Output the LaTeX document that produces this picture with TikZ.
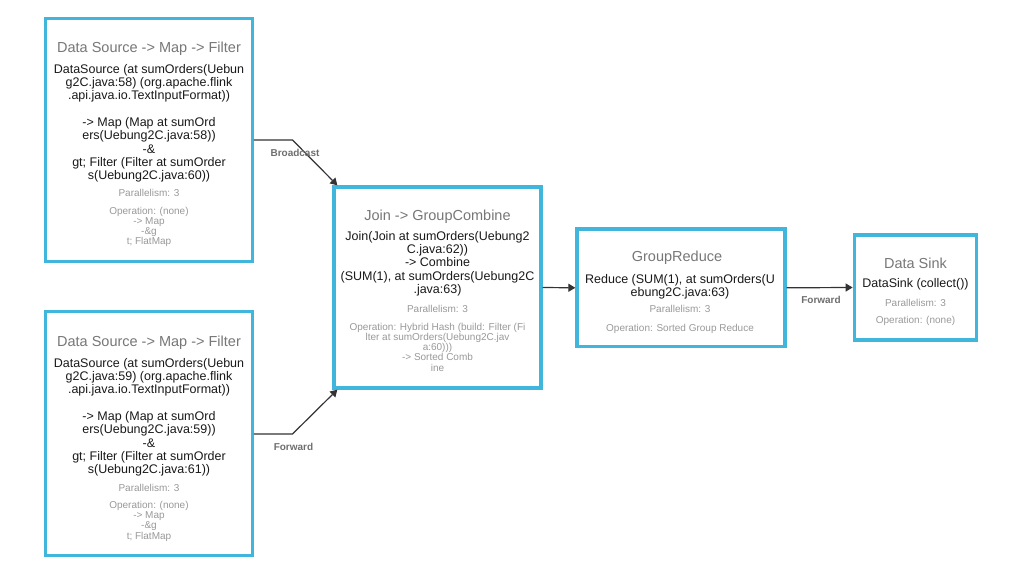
\documentclass[tikz,border=0pt]{standalone}
\usepackage{fontspec}
\setmainfont{Liberation Sans}
\definecolor{flinkblue}{RGB}{64, 182, 220}
\definecolor{titlegray}{RGB}{119, 119, 119}
\definecolor{infogray}{RGB}{153, 153, 153}
\definecolor{labelgray}{RGB}{110, 110, 110}
\definecolor{edgegray}{RGB}{51, 51, 51}
\usetikzlibrary{arrows.meta, positioning, calc}

\begin{document}
\begin{tikzpicture}[
  x=1pt, y=-1pt,
  opbox/.style={draw=flinkblue, line width=3.3pt, fill=white, inner sep=0pt},
  optitle/.style={anchor=base, inner sep=0pt, text=titlegray, font=\fontsize{14.5}{16}\selectfont},
  opbody/.style={anchor=base, inner sep=0pt, align=center, text=black!90, font=\fontsize{12.5}{13.3}\selectfont},
  opinfo/.style={anchor=base, inner sep=0pt, align=center, text=infogray, font=\fontsize{10}{10.3}\selectfont},
  shiplabel/.style={anchor=base, inner sep=0pt, text=labelgray, font=\bfseries\fontsize{10}{12}\selectfont},
  flow/.style={draw=edgegray, line width=1.2pt, -{Triangle[length=7pt, width=8pt]}}
]
  \useasboundingbox (0,0) rectangle (1029,578);

  % data sources (text nodes sit on the baseline of their last line)
  \node[opbox, minimum width=206.6pt, minimum height=243pt] (srcA) at (149,140) {};
  \node[optitle] (srcAtitle) at (149,52.7) {Data Source -> Map -> Filter};
  \node[opbody] (srcAbody) at (149,179.7) {DataSource (at sumOrders(Uebun\\g2C.java:58) (org.apache.flink\\.api.java.io.TextInputFormat))\\[13.3pt]-> Map (Map at sumOrd\\ers(Uebung2C.java:58))\\-\&\\gt; Filter (Filter at sumOrder\\s(Uebung2C.java:60))};
  \node[opinfo] (srcApar) at (149,196.7) {Parallelism: 3};
  \node[opinfo] (srcAop) at (149,244.9) {Operation: (none)\\-> Map\\-\&g\\t; FlatMap};

  \node[opbox, minimum width=206.6pt, minimum height=243.6pt] (srcB) at (149,433.5) {};
  \node[optitle] (srcBtitle) at (149,346.7) {Data Source -> Map -> Filter};
  \node[opbody] (srcBbody) at (149,473.7) {DataSource (at sumOrders(Uebun\\g2C.java:59) (org.apache.flink\\.api.java.io.TextInputFormat))\\[13.3pt]-> Map (Map at sumOrd\\ers(Uebung2C.java:59))\\-\&\\gt; Filter (Filter at sumOrder\\s(Uebung2C.java:61))};
  \node[opinfo] (srcBpar) at (149,491) {Parallelism: 3};
  \node[opinfo] (srcBop) at (149,539.2) {Operation: (none)\\-> Map\\-\&g\\t; FlatMap};

  % join
  \node[opbox, minimum width=207pt, minimum height=201pt] (join) at (437.5,287.5) {};
  \node[optitle] (jointitle) at (437.5,220) {Join -> GroupCombine};
  \node[opbody] (joinbody) at (437.5,293.5) {Join(Join at sumOrders(Uebung2\\C.java:62))\\-> Combine\\(SUM(1), at sumOrders(Uebung2C\\.java:63)};
  \node[opinfo] (joinpar) at (437.5,312.3) {Parallelism: 3};
  \node[opinfo] (joinop) at (437.5,371.2) {Operation: Hybrid Hash (build: Filter (Fi\\lter at sumOrders(Uebung2C.jav\\a:60)))\\-> Sorted Comb\\ine};

  % reduce
  \node[opbox, minimum width=208pt, minimum height=117.7pt] (reduce) at (681,287.8) {};
  \node[optitle] (reducetitle) at (677,261.7) {GroupReduce};
  \node[opbody] (reducebody) at (680,296.6) {Reduce (SUM(1), at sumOrders(U\\ebung2C.java:63)};
  \node[opinfo] (reducepar) at (680,312.7) {Parallelism: 3};
  \node[opinfo] (reduceop) at (680,331.7) {Operation: Sorted Group Reduce};

  % sink
  \node[opbox, minimum width=122.4pt, minimum height=105pt] (sink) at (915.5,287.5) {};
  \node[optitle] (sinktitle) at (915.5,268.3) {Data Sink};
  \node[opbody] (sinkbody) at (915.5,287.3) {DataSink (collect())};
  \node[opinfo] (sinkpar) at (915.5,306) {Parallelism: 3};
  \node[opinfo] (sinkop) at (915.5,323.3) {Operation: (none)};

  % connectors
  \coordinate (bendA) at (292.5,140);
  \coordinate (bendB) at (292.5,434);
  \draw[flow] (srcA.east) -- (bendA) -- ([xshift=5pt]join.north west);
  \draw[flow] (srcB.east |- bendB) -- (bendB) -- ([xshift=5pt]join.south west);
  \draw[flow] (join.east) -- (reduce.west);
  \draw[flow] (reduce.east) -- (sink.west);

  \node[shiplabel] (lblbroadcast) at (295,156) {Broadcast};
  \node[shiplabel] (lblforwardB) at (293.5,450) {Forward};
  \node[shiplabel] (lblforwardD) at (821,303.3) {Forward};
\end{tikzpicture}
\end{document}
